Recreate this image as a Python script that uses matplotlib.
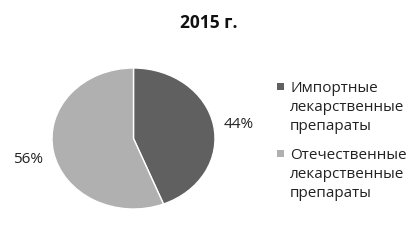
import numpy as np
import matplotlib.pyplot as plt
from matplotlib.patches import Rectangle

# data
labels = ["Импортные\nлекарственные\nпрепараты", "Отечественные\nлекарственные\nпрепараты"]
shares = [44, 56]
colors = ["#606060", "#b0b0b0"]

plt.rcParams['font.family'] = ['Open Sans', 'DejaVu Sans']

W, H = 419, 240
fig = plt.figure(figsize=(W / 100, H / 100), dpi=100)
fig.patch.set_facecolor("white")

# axes box sized so the pie comes out slightly squashed like the original
ax = fig.add_axes([52 / W, 31 / H, 163 / W, 141 / H])
wedges, texts = ax.pie(shares, colors=colors, startangle=90, counterclock=False,
                       wedgeprops={"edgecolor": "white", "linewidth": 1})
ax.set_aspect("auto")
ax.set_xlim(-1, 1)
ax.set_ylim(-1, 1)

# percentage labels outside the slices
for w, val in zip(wedges, shares):
    ang = np.deg2rad((w.theta1 + w.theta2) / 2)
    ax.text(1.32 * np.cos(ang), 1.32 * np.sin(ang) - 0.05, f"{val}%",
            ha="center", va="center", fontsize=11, color="#222222")

# title
fig.text(209 / W, 1 - 28 / H, "2015 г.", ha="center", va="baseline",
         fontsize=12.5, fontweight="bold", color="#111111")

# legend: square aligned with the first line of each entry
first_baselines = [92, 159]
step = 19
for w, lab, base in zip(wedges, labels, first_baselines):
    fig.patches.append(Rectangle((277 / W, 1 - (base - 2) / H), 7 / W, 7 / H,
                                 transform=fig.transFigure,
                                 facecolor=w.get_facecolor(), edgecolor="none"))
    # va='baseline' here lines up the last line of the block
    fig.text(290 / W, 1 - (base + 2 * step) / H, lab, ha="left", va="baseline",
             fontsize=11, color="#222222", linespacing=1.35)

fig.savefig("out.png", dpi=100)
